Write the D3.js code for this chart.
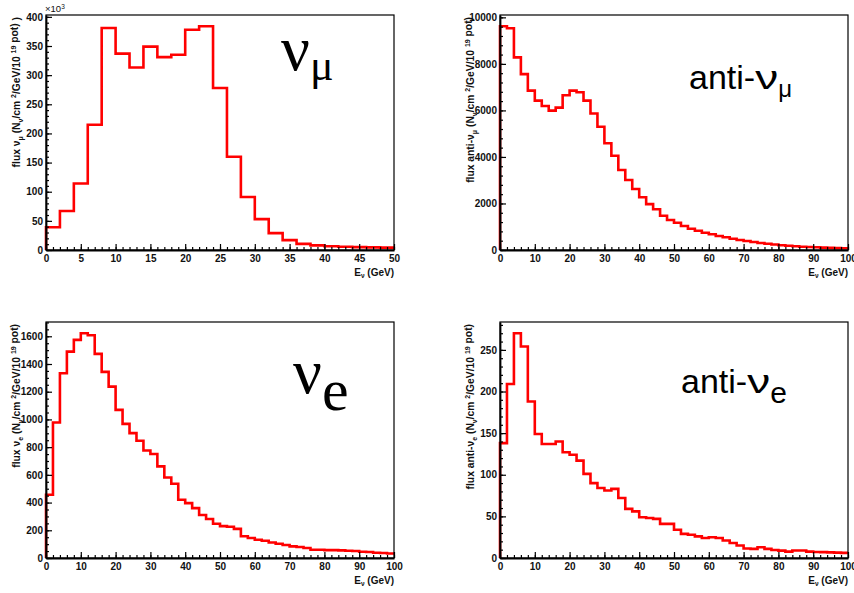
<!DOCTYPE html>
<html>
<head>
<meta charset="utf-8">
<script src="https://cdn.jsdelivr.net/npm/d3@7"></script>
<style>
  html, body { margin: 0; padding: 0; background: #ffffff; }
  svg { display: block; }
</style>
</head>
<body>
<svg id="chart" width="854" height="593"></svg>
<script>
// ---------------- DATA ----------------
// bin width 2 GeV for every histogram
const binWidth = 2;

// nu_mu flux (units of 10^3), 0-50 GeV
const numuFlux = [39, 67, 114, 215, 381, 337, 313, 349, 331, 335,
                  378, 384, 278, 160, 91, 53, 29, 17, 10.5, 8,
                  6.5, 5.5, 5, 4.5, 4];

// anti-nu_mu flux, 0-100 GeV
const anumuFlux = [9620, 9530, 8280, 7560, 6850, 6420, 6190, 5990, 6120, 6650,
                   6850, 6780, 6420, 5870, 5300, 4590, 4050, 3440, 3010, 2620,
                   2265, 1970, 1749, 1474, 1289, 1173, 1031, 915, 829, 743,
                   675, 602, 546, 486, 430, 387, 344, 300, 266, 236,
                   206, 180, 159, 142, 129, 116, 103, 90, 82, 73];

// nu_e flux, 0-100 GeV
const nueFlux = [456, 978, 1333, 1489, 1574, 1622, 1607, 1473, 1343, 1237,
                 1069, 968, 901, 846, 776, 750, 661, 581, 536, 420,
                 396, 360, 310, 281, 247, 230, 226, 210, 157, 144,
                 132, 125, 112, 103, 94, 84, 79, 72, 60, 60,
                 57, 57, 55, 52, 50, 45, 43, 38, 36, 33];

// anti-nu_e flux, 0-100 GeV
const anueFlux = [138, 209, 270, 254, 188, 149, 137, 137, 140, 127,
                  124, 117, 101, 90, 84, 81, 83, 72, 59, 56,
                  49, 48, 47, 41, 41, 34, 29, 28, 26, 24,
                  25, 24, 21, 18, 15, 11.5, 11, 13, 11, 9.6,
                  8.8, 7.6, 9, 9, 7.6, 7.2, 7, 6.8, 6.4, 6.2];

// tick values
const xTicks50 = [0, 5, 10, 15, 20, 25, 30, 35, 40, 45, 50];
const xTicks100 = [0, 10, 20, 30, 40, 50, 60, 70, 80, 90, 100];
const yTicksNumu = [0, 50, 100, 150, 200, 250, 300, 350, 400];
const yTicksAnumu = [0, 2000, 4000, 6000, 8000, 10000];
const yTicksNue = [0, 200, 400, 600, 800, 1000, 1200, 1400, 1600];
const yTicksAnue = [0, 50, 100, 150, 200, 250];

// ---------------- DRAW ----------------
const svg = d3.select("#chart");
const RED = "#ff0000";
const SERIF = "'Liberation Serif', 'Times New Roman', serif";
const SANS = "'Liberation Sans', Arial, Helvetica, sans-serif";

function minorValues(max, step) {
  const out = [];
  for (let v = 0; v <= max + 1e-9; v += step) out.push(+v.toFixed(6));
  return out;
}

function drawPanel(cfg) {
  const g = svg.append("g");
  const xMax = cfg.values.length * binWidth;
  const x = d3.scaleLinear().domain([0, xMax]).range([cfg.left, cfg.right]);
  const y = d3.scaleLinear().domain([0, d3.max(cfg.values) * 1.05]).range([cfg.bottom, cfg.top]);

  // histogram outline
  const pts = [[0, 0]];
  cfg.values.forEach((v, i) => {
    pts.push([i * binWidth, v]);
    pts.push([(i + 1) * binWidth, v]);
  });
  const line = d3.line().x(d => x(d[0])).y(d => y(d[1]));
  g.append("path")
    .attr("d", line(pts))
    .attr("fill", "none")
    .attr("stroke", RED)
    .attr("stroke-width", 2.6)
    .attr("stroke-linejoin", "miter");

  // frame
  g.append("rect")
    .attr("x", cfg.left).attr("y", cfg.top)
    .attr("width", cfg.right - cfg.left).attr("height", cfg.bottom - cfg.top)
    .attr("fill", "none").attr("stroke", "#000").attr("stroke-width", 1.2);

  // x axis minor
  const xMinor = d3.axisBottom(x).tickValues(minorValues(xMax, cfg.xMinor))
    .tickSizeInner(-3).tickSizeOuter(0).tickFormat("");
  g.append("g").attr("transform", `translate(0,${cfg.bottom})`).call(xMinor)
    .call(s => s.select(".domain").remove())
    .selectAll("line").attr("stroke-width", 1.2);
  // x axis major
  const xMajor = d3.axisBottom(x).tickValues(cfg.xTicks)
    .tickSizeInner(-6).tickSizeOuter(0).tickPadding(5);
  const gx = g.append("g").attr("transform", `translate(0,${cfg.bottom})`).call(xMajor);
  gx.select(".domain").attr("stroke-width", 1.8);
  gx.selectAll("line").attr("stroke-width", 1.2);
  gx.selectAll("text").attr("font-family", SANS).attr("font-weight", "bold")
    .attr("font-size", 10).attr("fill", "#111");

  // y axis minor
  const yMinor = d3.axisLeft(y).tickValues(minorValues(y.domain()[1], cfg.yMinor))
    .tickSizeInner(-3).tickSizeOuter(0).tickFormat("");
  g.append("g").attr("transform", `translate(${cfg.left},0)`).call(yMinor)
    .call(s => s.select(".domain").remove())
    .selectAll("line").attr("stroke-width", 1.2);
  // y axis major
  const yMajor = d3.axisLeft(y).tickValues(cfg.yTicks)
    .tickSizeInner(-6).tickSizeOuter(0).tickPadding(3).tickFormat(d3.format("d"));
  const gy = g.append("g").attr("transform", `translate(${cfg.left},0)`).call(yMajor);
  gy.select(".domain").attr("stroke-width", 1.8);
  gy.selectAll("line").attr("stroke-width", 1.2);
  gy.selectAll("text").attr("font-family", SANS).attr("font-weight", "bold")
    .attr("font-size", 10).attr("fill", "#111");

  // x axis title  E_nu (GeV)
  const xt = g.append("text")
    .attr("x", cfg.right).attr("y", cfg.bottom + 26)
    .attr("text-anchor", "end")
    .attr("font-family", SANS).attr("font-weight", "bold").attr("font-size", 10)
    .attr("fill", "#111");
  xt.append("tspan").text("E");
  xt.append("tspan").attr("font-size", 6.5).attr("dy", 1.5).text("ν");
  xt.append("tspan").attr("dy", -1.5).text(" (GeV)");

  // y axis title (rotated, right aligned to top)
  const yt = g.append("text")
    .attr("transform", `translate(${cfg.left - 26},${cfg.top + 2}) rotate(-90)`)
    .attr("text-anchor", "end")
    .attr("font-family", SANS).attr("font-weight", "bold").attr("font-size", 10.3)
    .attr("fill", "#111");
  yt.append("tspan").text(cfg.yTitleFlavor);
  yt.append("tspan").attr("font-size", 7).attr("dy", 2.5).text(cfg.yTitleSub);
  yt.append("tspan").attr("dy", -2.5).text(" (N");
  yt.append("tspan").attr("font-size", 7).attr("dy", 2.5).text("ν");
  yt.append("tspan").attr("dy", -2.5).text("/cm ");
  yt.append("tspan").attr("font-size", 7).attr("dy", -4.5).text("2");
  yt.append("tspan").attr("dy", 4.5).text("/GeV/10 ");
  yt.append("tspan").attr("font-size", 7).attr("dy", -4.5).text("19");
  yt.append("tspan").attr("dy", 2.5).text(" pot)");
  if (cfg.extraParen) yt.append("tspan").attr("dy", 2).text("   )");

  // big label
  const lab = g.append("text").attr("x", cfg.labelX).attr("y", cfg.labelY)
    .attr("font-family", cfg.labelFont).attr("fill", "#000");
  lab.append("tspan").attr("font-size", cfg.labelSize).text(cfg.labelPrefix);
  const nu = lab.append("tspan").attr("font-size", cfg.labelSize).text("ν");
  if (cfg.nuWidth) nu.attr("textLength", cfg.nuWidth).attr("lengthAdjust", "spacingAndGlyphs");
  lab.append("tspan").attr("font-size", cfg.labelSubSize).attr("dy", cfg.labelSubDy).text(cfg.labelSub);

  return {x, y};
}

drawPanel({
  values: numuFlux, left: 46, right: 394, top: 15, bottom: 250,
  xTicks: xTicks50, xMinor: 1, yTicks: yTicksNumu, yMinor: 10,
  yTitleFlavor: "flux ν", yTitleSub: "μ", extraParen: true,
  labelPrefix: "", labelSub: "μ", labelX: 281, labelY: 70, labelFont: SERIF,
  labelSize: 64, labelSubSize: 44, labelSubDy: 10
});
drawPanel({
  values: anumuFlux, left: 500, right: 848, top: 15, bottom: 250,
  xTicks: xTicks100, xMinor: 2, yTicks: yTicksAnumu, yMinor: 400,
  yTitleFlavor: "flux anti-ν", yTitleSub: "μ",
  labelPrefix: "anti-", labelSub: "μ", labelX: 689, labelY: 89, labelFont: SANS,
  labelSize: 34, labelSubSize: 24, labelSubDy: 8, nuWidth: 23
});
drawPanel({
  values: nueFlux, left: 46, right: 394, top: 322, bottom: 558,
  xTicks: xTicks100, xMinor: 2, yTicks: yTicksNue, yMinor: 50,
  yTitleFlavor: "flux ν", yTitleSub: "e",
  labelPrefix: "", labelSub: "e", labelX: 293, labelY: 393, labelFont: SERIF,
  labelSize: 64, labelSubSize: 60, labelSubDy: 17
});
drawPanel({
  values: anueFlux, left: 500, right: 848, top: 322, bottom: 558,
  xTicks: xTicks100, xMinor: 2, yTicks: yTicksAnue, yMinor: 10,
  yTitleFlavor: "flux anti-ν", yTitleSub: "e",
  labelPrefix: "anti-", labelSub: "e", labelX: 681, labelY: 393, labelFont: SANS,
  labelSize: 34, labelSubSize: 30, labelSubDy: 10, nuWidth: 23
});

// x10^3 multiplier for the nu_mu panel
const mult = svg.append("text").attr("x", 45).attr("y", 12)
  .attr("font-family", SANS).attr("font-size", 9.5).attr("fill", "#111");
mult.append("tspan").text("×10");
mult.append("tspan").attr("font-size", 6.5).attr("dy", -3.5).text("3");
</script>
</body>
</html>
